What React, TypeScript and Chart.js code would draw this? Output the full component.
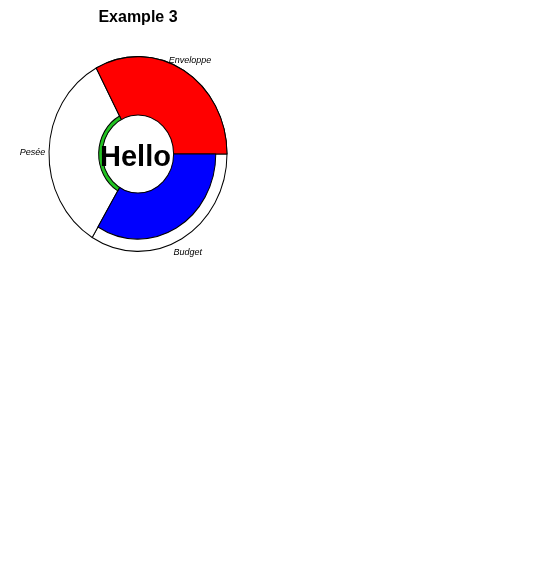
import { useEffect, useRef } from "react";
import { Chart, registerables } from "chart.js";

Chart.register(...registerables);

const TITLE = "Example 3";
const CENTER_TEXT = "Hello";
const categories = ["Enveloppe", "Budget", "Pesée"];
const values = [100, 79, 7];
const sectorAngles = [118, 121, 121];
const colors = ["#FF0000", "#0000FF", "#22C322"];
const backgroundValues = [100, 100, 100];
const MAX = 100;
const HOLE = 0.4;
const Y_STRETCH = 1.094;
const FONT = "'Liberation Sans', Arial, sans-serif";

export default function App() {
  const ref = useRef<HTMLCanvasElement>(null);

  useEffect(() => {
    const canvas = ref.current;
    if (!canvas) return;

    const decor = {
      id: "donutDecor",
      beforeDatasetsDraw(chart: any) {
        const s = chart.scales.r;
        const ctx = chart.ctx;
        ctx.save();
        ctx.translate(s.xCenter, s.yCenter);
        ctx.scale(1, Y_STRETCH);
        ctx.translate(-s.xCenter, -s.yCenter);
      },
      afterDatasetsDraw(chart: any) {
        const s = chart.scales.r;
        const ctx = chart.ctx;
        const r0 = s.getDistanceFromCenterForValue(0);
        ctx.beginPath();
        ctx.arc(s.xCenter, s.yCenter, r0, 0, Math.PI * 2);
        ctx.fillStyle = "#ffffff";
        ctx.fill();
        ctx.lineWidth = 1;
        ctx.strokeStyle = "#000000";
        ctx.stroke();
        ctx.restore();

        const meta = chart.getDatasetMeta(0);
        const R = s.getDistanceFromCenterForValue(MAX);
        ctx.save();
        ctx.font = `italic 9px ${FONT}`;
        ctx.fillStyle = "#000000";
        ctx.textAlign = "center";
        ctx.textBaseline = "middle";
        meta.data.forEach((arc: any, i: number) => {
          const a = (arc.startAngle + arc.endAngle) / 2;
          const c = Math.cos(a);
          const sn = Math.sin(a);
          const x = s.xCenter + R * c + 15 * c - 1.5;
          const y = s.yCenter + R * Y_STRETCH * sn + 14 * sn + 1.5;
          ctx.fillText(categories[i], x, y);
        });
        ctx.font = `bold 29px ${FONT}`;
        ctx.textBaseline = "alphabetic";
        ctx.fillText(CENTER_TEXT, s.xCenter - 2.5, s.yCenter + 12);
        ctx.restore();
      },
    };

    const chart = new Chart(canvas, {
      type: "polarArea",
      data: {
        labels: categories,
        datasets: [
          {
            data: values,
            angle: sectorAngles,
            backgroundColor: colors,
            borderColor: "#000000",
            borderWidth: 1,
            order: 1,
            clip: false,
          },
          {
            data: backgroundValues,
            angle: sectorAngles,
            backgroundColor: "#ffffff",
            borderColor: "#000000",
            borderWidth: 1,
            order: 2,
            clip: false,
          },
        ],
      },
      options: {
        responsive: false,
        animation: false,
        events: [],
        layout: { padding: { left: 49, right: 322, top: 5, bottom: 343 } },
        scales: {
          r: {
            display: false,
            min: (-HOLE * MAX) / (1 - HOLE),
            max: MAX,
            startAngle: -28,
          },
        },
        plugins: {
          legend: { display: false },
          tooltip: { enabled: false },
          title: {
            display: true,
            text: TITLE,
            color: "#000000",
            font: { family: FONT, size: 16, weight: "bold" },
            padding: { top: 3, bottom: 37.8 },
          },
        },
      },
      plugins: [decor],
    } as any);

    return () => chart.destroy();
  }, []);

  return (
    <div style={{ position: "fixed", left: 0, top: 0, width: 549, height: 586, background: "#ffffff" }}>
      <canvas ref={ref} width={549} height={586} style={{ display: "block" }} />
    </div>
  );
}
